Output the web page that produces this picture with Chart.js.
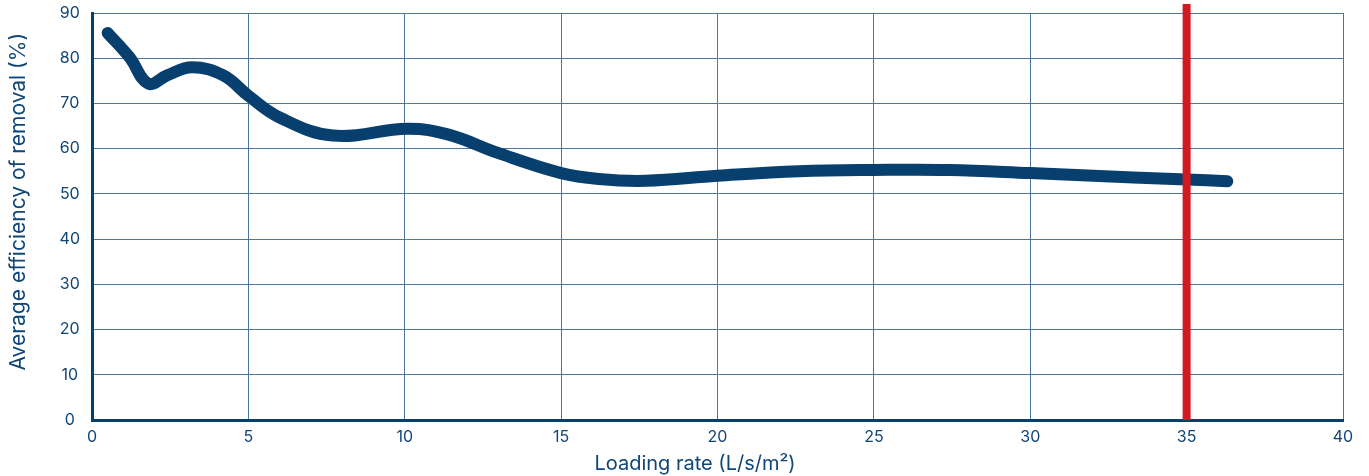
<!DOCTYPE html>
<html>
<head>
<meta charset="utf-8">
<script src="https://cdn.jsdelivr.net/npm/chart.js@4"></script>
<style>
    html, body { margin: 0; padding: 0; background: #fff; }
    #wrap { width: 1369px; height: 476px; }
</style>
</head>
<body>
<div id="wrap"><canvas id="chart" width="1369" height="476"></canvas></div>
<script>
// Loading rate (L/s/m2) vs average removal efficiency (%)
const loadingRates = [0.5, 1.2, 1.8, 2.4, 3.2, 4.2, 5.0, 6.0, 7.7, 10.1, 11.4, 13.0, 15.0, 16.2, 17.7, 20.0, 22.6, 25.0, 27.4, 30.0, 33.3, 35.0, 36.3];
const efficiencies = [85.6, 80.2, 74.4, 76.2, 78.0, 76.2, 71.7, 66.9, 62.9, 64.4, 63.1, 59.0, 54.6, 53.3, 52.9, 54.0, 55.0, 55.3, 55.3, 54.6, 53.6, 53.2, 52.8];

// red limit marker at 35 L/s/m2
const limitX = [35, 35];
const limitY = [0, 92];

const NAVY = '#073f6e';
const GRID = '#4a77a0';
const TEXT = '#0f4677';

const curve = loadingRates.map((x, i) => ({ x: x, y: efficiencies[i] }));
const limit = limitX.map((x, i) => ({ x: x, y: limitY[i] }));

const ctx = document.getElementById('chart').getContext('2d');

new Chart(ctx, {
    type: 'line',
    data: {
        datasets: [
            {
                data: limit,
                borderColor: '#d2191f',
                borderWidth: 8,
                pointRadius: 0,
                clip: false,
                order: 0
            },
            {
                data: curve,
                borderColor: NAVY,
                borderWidth: 12,
                borderCapStyle: 'round',
                borderJoinStyle: 'round',
                tension: 0.4,
                pointRadius: 0,
                order: 1
            }
        ]
    },
    options: {
        responsive: false,
        animation: false,
        layout: {
            padding: { top: 13, right: 26, bottom: 0, left: 0 }
        },
        plugins: {
            legend: { display: false },
            tooltip: { enabled: false }
        },
        scales: {
            x: {
                type: 'linear',
                min: 0,
                max: 40,
                ticks: {
                    stepSize: 5,
                    color: TEXT,
                    padding: 8,
                    font: { family: 'Inter', size: 16 }
                },
                grid: {
                    color: GRID,
                    lineWidth: 1,
                    drawTicks: false
                },
                border: { color: NAVY, width: 3 },
                title: {
                    display: true,
                    text: 'Loading rate (L/s/m²)        ',
                    color: TEXT,
                    padding: { top: 0, bottom: 0 },
                    font: { family: 'Inter', size: 20 }
                },
                afterFit: function (scale) {
                    scale.height = 56;
                    scale.paddingRight = 0;
                }
            },
            y: {
                type: 'linear',
                min: 0,
                max: 90,
                ticks: {
                    stepSize: 10,
                    color: TEXT,
                    padding: 12,
                    crossAlign: 'center',
                    font: { family: 'Inter', size: 16 }
                },
                grid: {
                    color: GRID,
                    lineWidth: 1,
                    drawTicks: false
                },
                border: { color: NAVY, width: 3 },
                title: {
                    display: true,
                    text: '     Average efficiency of removal (%)',
                    color: TEXT,
                    padding: { top: 6, bottom: 0 },
                    font: { family: 'Inter', size: 21 }
                },
                afterFit: function (scale) {
                    scale.width = 92;
                    scale.paddingTop = 0;
                    scale.paddingBottom = 0;
                }
            }
        }
    }
});
</script>
</body>
</html>
